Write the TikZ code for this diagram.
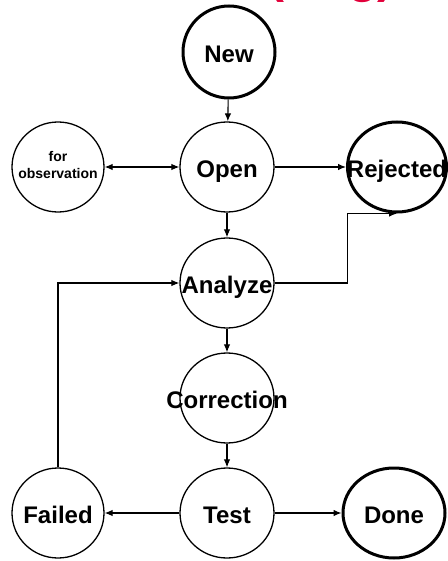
\documentclass[tikz,border=0pt]{standalone}
\usepackage{fontspec}
\setmainfont{Liberation Sans}
\usetikzlibrary{shapes.geometric,arrows.meta}
\tikzset{>={Latex[length=8pt,width=6.5pt]}}
\definecolor{titlered}{RGB}{226,0,58}
\tikzset{
  ring/.style={ellipse,draw,line width=1.3pt,minimum width=94pt,minimum height=90pt,inner sep=0pt},
  state/.style={ring,text height=21pt,text depth=0pt,font=\fontsize{24}{28}\selectfont\bfseries},
  endstate/.style={state,line width=3pt},
  link/.style={->,line width=1.1pt}
}
\newcommand{\statename}[1]{\makebox[0pt]{#1}}

\begin{document}
\begin{tikzpicture}[x=1pt,y=-1pt]
  \useasboundingbox (0,0) rectangle (447,561);
  % title, cut off at the top
  \begin{scope}
    \clip (0,0) rectangle (447,561);
    \node[titlered,anchor=south west,inner sep=0pt,font=\fontsize{48}{56}\selectfont\bfseries] (title) at (268,3) {(Bug)};
  \end{scope}
  % states
  \node[endstate,minimum width=92pt,minimum height=92pt] (new) at (229,52) {\statename{New}};
  \node[ring,minimum width=92pt,font=\fontsize{14}{17}\selectfont\bfseries] (observation) at (58,167) {\statename{\begin{tabular}{@{}c@{}}for\\observation\end{tabular}}};
  \node[state] (open) at (227,167) {\statename{Open}};
  \node[endstate,minimum width=99pt] (rejected) at (397,167) {\statename{Rejected}};
  \node[state] (analyze) at (227,283) {\statename{Analyze}};
  \node[state] (correction) at (227,398) {\statename{Correction}};
  \node[state] (test) at (227,513) {\statename{Test}};
  \node[state,minimum width=92pt] (failed) at (58,513) {\statename{Failed}};
  \node[endstate,minimum width=102pt] (done) at (394,513) {\statename{Done}};
  % transitions
  \draw[link] (new) -- (open);
  \draw[link,<->] (observation) -- (open);
  \draw[link] (open) -- (rejected);
  \draw[link] (open) -- (analyze);
  \draw[link] (analyze.east) -- ++(73,0) |- (rejected.south);
  \draw[link] (failed.north) |- (analyze.west);
  \draw[link] (analyze) -- (correction);
  \draw[link] (correction) -- (test);
  \draw[link] (test) -- (failed);
  \draw[link] (test) -- (done);
\end{tikzpicture}
\end{document}
